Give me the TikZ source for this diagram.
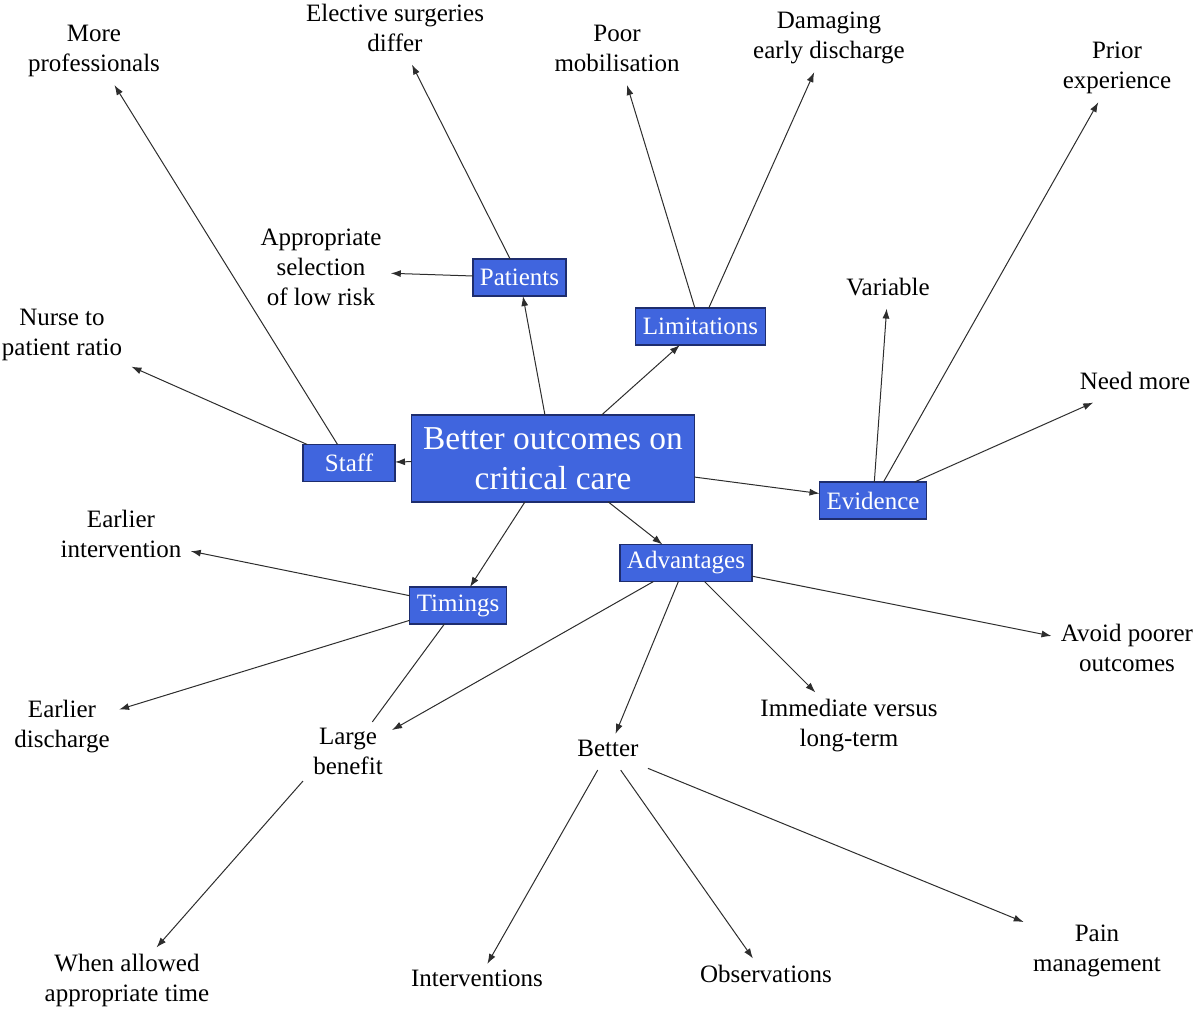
\documentclass[tikz,border=0pt]{standalone}
\usepackage{fontspec}
\setmainfont{Liberation Serif}
\usetikzlibrary{arrows.meta}
\definecolor{boxblue}{RGB}{64,101,222}
\definecolor{boxedge}{RGB}{30,45,110}
\definecolor{edgeclr}{RGB}{45,45,45}
\begin{document}
\begin{tikzpicture}[x=0.5pt,y=-0.5pt,
 lbl/.style={align=center, font=\fontsize{12.5}{15}\selectfont, inner xsep=4.5pt, inner ysep=3pt, text depth=3.5pt, yshift=-2pt},
 box/.style={fill=boxblue, draw=boxedge, line width=0.6pt, text=white, font=\fontsize{12.5}{15}\selectfont, minimum width=46pt, minimum height=18.5pt, inner xsep=3.5pt, inner ysep=0pt, outer sep=0pt},
 hub/.style={box, font=\fontsize{16.7}{20}\selectfont, align=center, minimum width=141.5pt, minimum height=43.5pt},
 arr/.style={draw=edgeclr, line width=0.5pt, -{Latex[length=5pt,width=3.5pt]}},
 ln/.style={draw=edgeclr, line width=0.5pt}]
\useasboundingbox (0,0) rectangle (1200,1009);
% boxes
\node[hub] (hub) at (553,458.5) {Better outcomes on\\critical care};
\node[box] (staff) at (349,463) {Staff};
\node[box] (patients) at (519.5,277.5) {Patients};
\node[box] (limits) at (700.5,326.5) {Limitations};
\node[box] (evidence) at (873,500.5) {Evidence};
\node[box] (timings) at (458,605.5) {Timings};
\node[box] (adv) at (686,563) {Advantages};
% labels
\node[lbl] (more) at (94,48) {More\\professionals};
\node[lbl] (elective) at (395,27) {Elective surgeries\\differ};
\node[lbl] (poor) at (617,48) {Poor\\mobilisation};
\node[lbl] (damaging) at (829,35) {Damaging\\early discharge};
\node[lbl] (prior) at (1117,65) {Prior\\experience};
\node[lbl] (approp) at (321,267) {Appropriate\\selection\\of low risk};
\node[lbl] (nurse) at (62,332) {Nurse to\\patient ratio};
\node[lbl] (variable) at (888,286) {Variable};
\node[lbl] (needmore) at (1135,380) {Need more};
\node[lbl] (eint) at (121,533) {Earlier\\intervention};
\node[lbl] (edis) at (62,723) {Earlier\\discharge};
\node[lbl] (large) at (348,751) {Large\\benefit};
\node[lbl] (better) at (608,748) {Better};
\node[lbl] (immediate) at (849,722) {Immediate versus\\long-term};
\node[lbl] (avoid) at (1127,647) {Avoid poorer\\outcomes};
\node[lbl] (when) at (127,977) {When allowed\\appropriate time};
\node[lbl] (interv) at (477,978) {Interventions};
\node[lbl] (obs) at (766,973) {Observations};
\node[lbl] (pain) at (1097,948) {Pain\\management};
\coordinate (lbs) at (303,781);
% edges from hub
\draw[arr] (hub) -- (staff);
\draw[arr] (hub) -- (patients);
\draw[arr] (hub) -- (limits);
\draw[arr] (hub) -- (evidence);
\draw[arr] (hub) -- (timings);
\draw[arr] (hub) -- (adv);
% staff
\draw[arr] (staff) -- (more);
\draw[arr] (staff) -- (nurse);
% patients
\draw[arr] (patients) -- (elective);
\draw[arr] (patients) -- (approp);
% limitations
\draw[arr] (limits) -- (poor);
\draw[arr] (limits) -- (damaging);
% evidence
\draw[arr] (evidence) -- (variable);
\draw[arr] (evidence) -- (prior);
\draw[arr] (evidence) -- (needmore);
% timings
\draw[arr] (timings) -- (eint);
\draw[arr] (timings) -- (edis);
\draw[ln] (timings) -- (large);
\draw[arr] (lbs) -- (when);
% advantages
\draw[arr] (adv) -- (large);
\draw[arr] (adv) -- (better);
\draw[arr] (adv) -- (immediate);
\draw[arr] (adv) -- (avoid);
% better
\draw[arr] (better) -- (interv);
\draw[arr] (better) -- (obs);
\draw[arr] (better) -- (pain);
\end{tikzpicture}
\end{document}
